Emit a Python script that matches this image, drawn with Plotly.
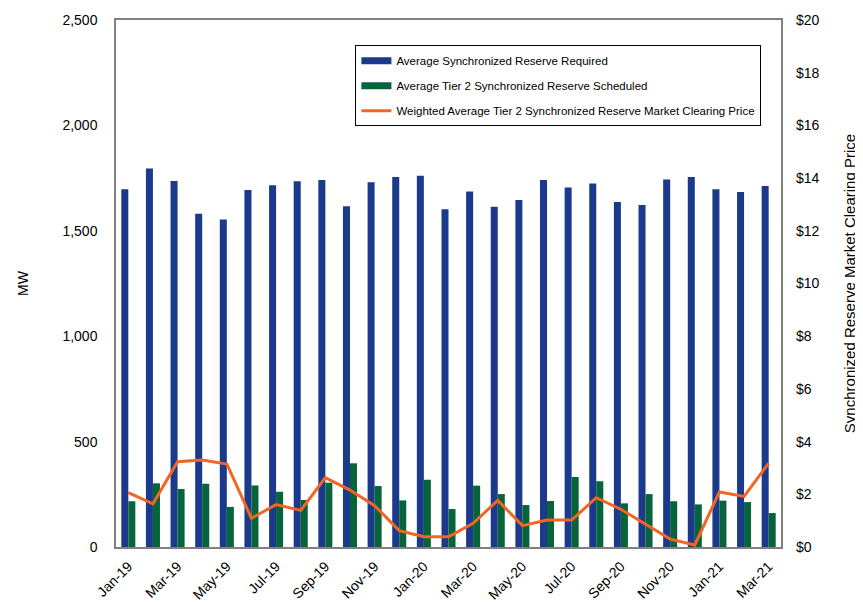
import plotly.graph_objects as go

months = ["Jan-19","Feb-19","Mar-19","Apr-19","May-19","Jun-19","Jul-19","Aug-19","Sep-19","Oct-19","Nov-19","Dec-19",
          "Jan-20","Feb-20","Mar-20","Apr-20","May-20","Jun-20","Jul-20","Aug-20","Sep-20","Oct-20","Nov-20","Dec-20",
          "Jan-21","Feb-21","Mar-21"]
required = [1697,1795,1736,1581,1554,1693,1716,1735,1741,1616,1730,1755,
            1761,1602,1687,1614,1646,1741,1705,1724,1637,1622,1743,1755,
            1697,1684,1713]
scheduled = [217,302,275,300,190,292,262,223,305,397,289,221,
             319,180,291,251,199,218,332,312,207,251,217,202,
             220,213,161]
price = [2.06,1.64,3.24,3.30,3.15,1.09,1.61,1.39,2.63,2.16,1.57,0.62,
         0.39,0.39,0.90,1.77,0.81,1.02,1.02,1.87,1.43,0.87,0.30,0.08,
         2.09,1.92,3.18]
tick_labels = months[::2]

names = ["Average Synchronized Reserve Required",
         "Average Tier 2 Synchronized Reserve Scheduled",
         "Weighted Average Tier 2 Synchronized Reserve Market Clearing Price"]
colors = ["#1C3A8C", "#06633A", "#F26522"]

FONT = "Liberation Sans, Arial, sans-serif"

fig = go.Figure()
fig.add_trace(go.Bar(x=months, y=required, name=names[0], showlegend=False,
                     marker=dict(color=colors[0], line=dict(width=0))))
fig.add_trace(go.Bar(x=months, y=scheduled, name=names[1], showlegend=False,
                     marker=dict(color=colors[1], line=dict(width=0))))
fig.add_trace(go.Scatter(x=months, y=price, name=names[2], showlegend=False,
                         mode="lines", line=dict(color=colors[2], width=3), yaxis="y2"))
# legend entries (bar swatches drawn as wide rectangles like the original)
for i, (nm, c, w) in enumerate(zip(names, colors, [7, 7, 3])):
    fig.add_trace(go.Scatter(x=[None], y=[None], name=nm, mode="lines",
                             line=dict(color=c, width=w), legendgroup=str(i),
                             yaxis="y2" if i == 2 else "y"))

fig.update_layout(
    width=855, height=594,
    margin=dict(l=108, r=82, t=12, b=55),
    plot_bgcolor="white", paper_bgcolor="white",
    font=dict(family=FONT, size=14, color="#000000"),
    barmode="group", bargap=0.43, bargroupgap=0,
    showlegend=True,
    legend=dict(x=0.36, y=0.952, xanchor="left", yanchor="top",
                bordercolor="#000000", borderwidth=1, bgcolor="white",
                font=dict(family=FONT, size=11.5, color="#000000"),
                traceorder="grouped", tracegroupgap=6, itemwidth=30),
    xaxis=dict(type="category", tickmode="array", tickvals=tick_labels, ticktext=tick_labels,
               tickangle=-45, showline=True, linecolor="#808080", linewidth=1.5, mirror=True,
               showgrid=False, ticks="", tickfont=dict(size=14), ticklabelstandoff=4,
               automargin=False),
    yaxis=dict(range=[0, 2500], dtick=500, tickformat=",", showgrid=False, zeroline=False,
               showline=True, linecolor="#808080", linewidth=1.5, mirror=True, ticks="",
               ticklabelstandoff=14, automargin=False,
               title=dict(text="MW", standoff=31, font=dict(size=14))),
    yaxis2=dict(range=[0, 20], dtick=2, tickprefix="$", overlaying="y", side="right",
                showgrid=False, zeroline=False, showline=False, ticks="", ticklabelstandoff=14,
                automargin=False,
                title=dict(text="Synchronized Reserve Market Clearing Price", standoff=25, font=dict(size=15))),
)

fig.write_html("out.html")
